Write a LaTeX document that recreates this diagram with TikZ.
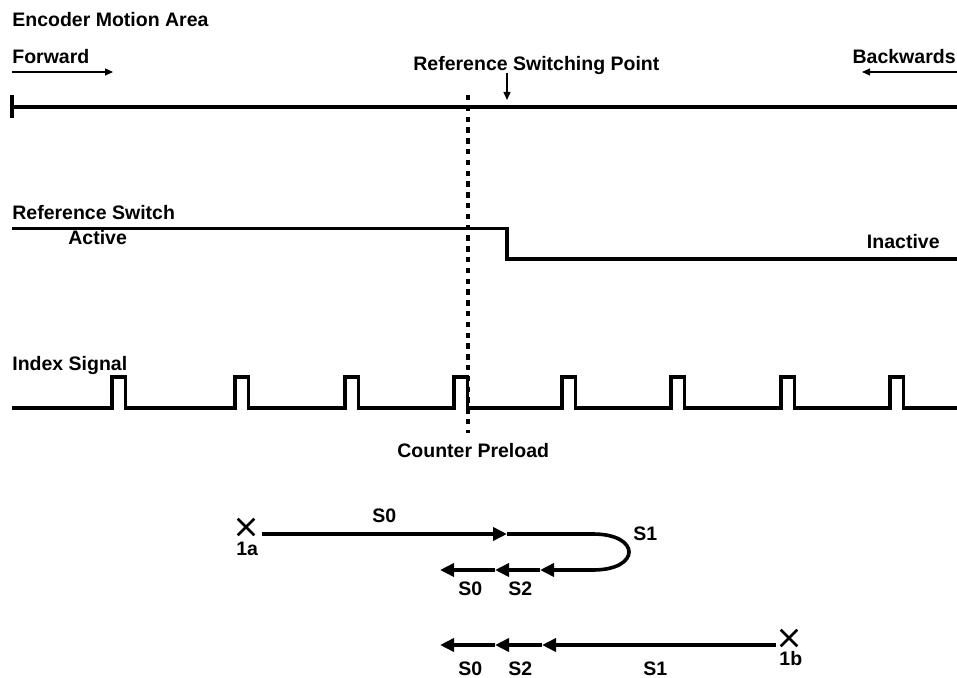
\documentclass[tikz,border=0pt]{standalone}
\usepackage{fontspec}
\setmainfont{Liberation Sans}
\usetikzlibrary{arrows.meta, shapes.misc}

\begin{document}
\begin{tikzpicture}[
    x=0.5pt, y=-0.5pt,
    lbl/.style={anchor=base west, inner sep=0pt, font=\fontsize{9.75}{11}\selectfont\bfseries},
    wave/.style={line width=1.7pt},
    track/.style={line width=1.8pt, -{Triangle[length=7pt, width=6.5pt]}},
    thinarrow/.style={line width=0.6pt, -{Triangle[length=4pt, width=3.5pt]}},
    crossmark/.style={cross out, draw, line width=1.3pt, minimum size=7pt, inner sep=0pt}
]
\useasboundingbox (0,0) rectangle (957,678);

\node[lbl] (title) at (12,26.5) {Encoder Motion Area};
\node[lbl] (fwd) at (12,64) {Forward};
\node[lbl, anchor=base east] (bwd) at (956,64) {Backwards};
\node[lbl] (rsp) at (413,71) {Reference Switching Point};

\coordinate (fwdA) at (12,72);
\coordinate (fwdB) at (113,72);
\coordinate (bwdA) at (957,72);
\coordinate (bwdB) at (862,72);
\coordinate (rspA) at (507,73);
\coordinate (rspB) at (507,100);
\draw[thinarrow] (fwdA) -- (fwdB);
\draw[thinarrow] (bwdA) -- (bwdB);
\draw[thinarrow] (rspA) -- (rspB);

\draw[line width=2pt] (12,95) -- (12,118) (12,107) -- (957,107);

\node[lbl] (refsw) at (12,219.5) {Reference Switch};
\node[lbl] (active) at (68,245) {Active};
\node[lbl, anchor=base east] (inactive) at (940,249) {Inactive};
\draw[wave] (12,228.5) -- (507,228.5) -- (507,259) -- (957,259);

\node[lbl] (index) at (12,370) {Index Signal};
\draw[wave] (12,408)
    \foreach \p in {112,235,345,454,562,671,781,890} {
        -- (\p,408) -- (\p,377) -- (\p+13.5,377) -- (\p+13.5,408)
    } -- (957,408);

\coordinate (preTop) at (468,95);
\coordinate (preBot) at (468,433);
\draw[line width=1.6pt, dash pattern=on 2.7pt off 2.7pt] (preTop) -- (preBot);
\node[lbl] (preload) at (397,457) {Counter Preload};

% search run starting at 1a
\node[crossmark] (x1a) at (246,527) {};
\node[lbl] (n1a) at (236,555) {1a};
\coordinate (t0) at (262,534);
\coordinate (t1) at (507,534);
\coordinate (t2) at (593,534);
\coordinate (t3) at (593,570);
\coordinate (t4) at (540,570);
\coordinate (t5) at (495,570);
\coordinate (t6) at (440,570);
\draw[track] (t0) -- (t1);
\draw[track] (t1) -- (t2) .. controls (641,534) and (641,570) .. (t3) -- (t4);
\draw[track] (t4) -- (t5);
\draw[track] (t5) -- (t6);
\node[lbl] (s0a) at (372,522) {S0};
\node[lbl] (s1a) at (633,540) {S1};
\node[lbl] (s0b) at (458,595) {S0};
\node[lbl] (s2b) at (508,595) {S2};

% search run starting at 1b
\node[crossmark] (x1b) at (789,638) {};
\node[lbl] (n1b) at (779,665) {1b};
\coordinate (b0) at (776,645);
\coordinate (b1) at (542,645);
\coordinate (b2) at (495,645);
\coordinate (b3) at (440,645);
\draw[track] (b0) -- (b1);
\draw[track] (b1) -- (b2);
\draw[track] (b2) -- (b3);
\node[lbl] (s0c) at (458,675) {S0};
\node[lbl] (s2c) at (508,675) {S2};
\node[lbl] (s1c) at (643,675) {S1};
\end{tikzpicture}
\end{document}
